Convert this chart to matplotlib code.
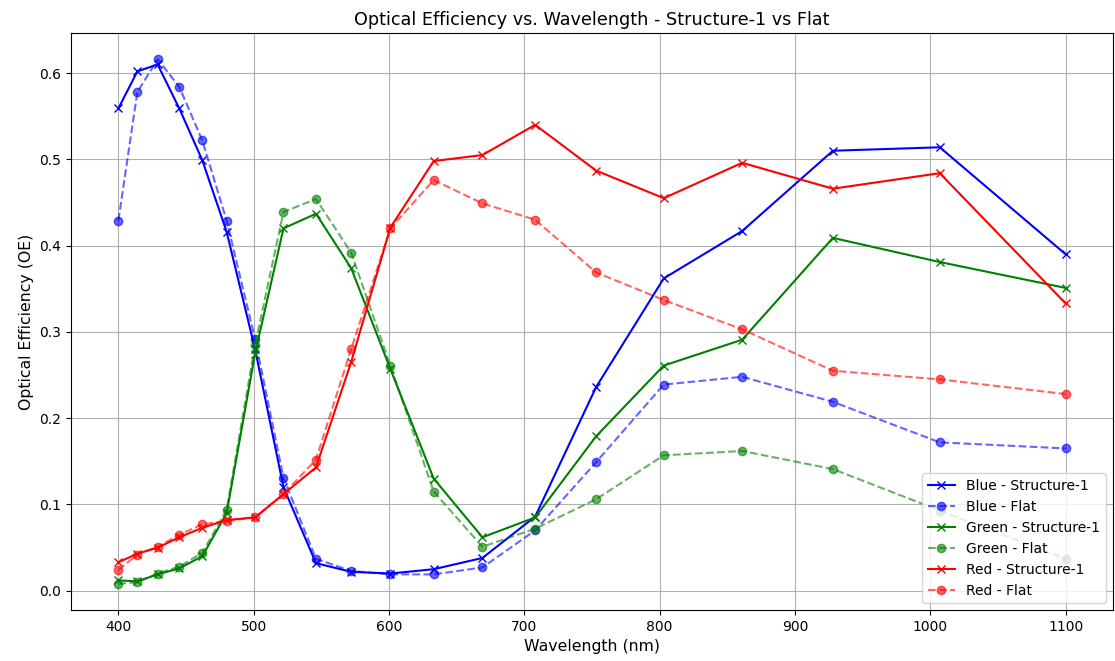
import matplotlib
matplotlib.use("Agg")
import matplotlib.pyplot as plt

wavelengths = [400, 414, 429, 445, 462, 480, 501, 522, 546, 572,
               601, 633, 669, 708, 753, 803, 861, 928, 1007, 1100]

blue_structure = [0.559, 0.602, 0.610, 0.559, 0.499, 0.416, 0.280, 0.120, 0.032, 0.022,
                  0.020, 0.025, 0.038, 0.086, 0.236, 0.362, 0.417, 0.510, 0.514, 0.390]
blue_flat = [0.429, 0.578, 0.616, 0.584, 0.522, 0.429, 0.292, 0.131, 0.037, 0.023,
             0.019, 0.019, 0.027, 0.070, 0.149, 0.239, 0.248, 0.219, 0.172, 0.165]

green_structure = [0.012, 0.011, 0.019, 0.026, 0.040, 0.090, 0.275, 0.420, 0.437, 0.374,
                   0.257, 0.130, 0.062, 0.085, 0.179, 0.261, 0.291, 0.409, 0.381, 0.351]
green_flat = [0.008, 0.010, 0.020, 0.028, 0.044, 0.094, 0.285, 0.439, 0.454, 0.392,
              0.261, 0.115, 0.051, 0.072, 0.106, 0.157, 0.162, 0.141, 0.093, 0.037]

red_structure = [0.033, 0.043, 0.050, 0.062, 0.073, 0.082, 0.085, 0.112, 0.143, 0.265,
                 0.421, 0.498, 0.505, 0.540, 0.487, 0.455, 0.496, 0.466, 0.484, 0.333]
red_flat = [0.024, 0.042, 0.051, 0.065, 0.077, 0.081, 0.085, 0.112, 0.152, 0.280,
            0.420, 0.476, 0.449, 0.430, 0.369, 0.337, 0.303, 0.255, 0.245, 0.228]

series = [
    ("Blue", "blue", blue_structure, blue_flat),
    ("Green", "green", green_structure, green_flat),
    ("Red", "red", red_structure, red_flat),
]

fig = plt.figure(figsize=(11.15, 6.61), dpi=100)
ax = fig.add_axes([0.0637, 0.077, 0.9345, 0.873])

for name, color, structure, flat in series:
    ax.plot(wavelengths, structure, marker="x", linestyle="-", color=color,
            label=f"{name} - Structure-1")
    ax.plot(wavelengths, flat, marker="o", linestyle="--", color=color,
            alpha=0.6, label=f"{name} - Flat")

ax.set_title("Optical Efficiency vs. Wavelength - Structure-1 vs Flat", fontsize=12.7)
ax.set_xlabel("Wavelength (nm)", fontsize=11.3)
ax.set_ylabel("Optical Efficiency (OE)", fontsize=11.3)
ax.grid(True)
ax.legend(loc="lower right")

fig.savefig("out.png", dpi=100)
